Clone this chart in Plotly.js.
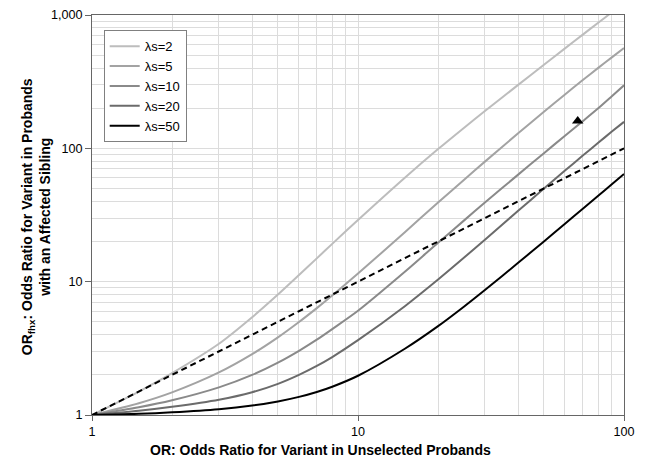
<!DOCTYPE html>
<html>
<head>
<meta charset="utf-8">
<script src="https://cdn.plot.ly/plotly-3.0.1.min.js"></script>
<style>html,body{margin:0;padding:0;background:#fff;}#chart{width:649px;height:463px;}</style>
</head>
<body>
<div id="chart"></div>
<script>
// OR values in unselected probands (x axis)
const orValues = [1, 1.5, 2, 3, 4, 5, 6, 7, 8, 10, 15, 20, 25, 30, 40, 50, 60, 70, 80, 90, 100];
// OR_fhx for each sibling recurrence risk
const lambda2  = [1, 1.5, 2.06, 3.42, 5.41, 8.0, 11.2, 14.95, 19.2, 29, 60.2, 98.7, 142.3, 190.5, 299, 423.5, 562, 713, 875, 1047, 1226];
const lambda5  = [1, 1.225, 1.477, 2.085, 2.86, 3.82, 4.98, 6.33, 7.87, 11.5, 23.5, 39.2, 58, 79.5, 129.6, 188, 253.6, 325, 401, 481, 565];
const lambda10 = [1, 1.143, 1.289, 1.611, 1.998, 2.47, 3.03, 3.67, 4.41, 6.05, 11.86, 19.56, 28.7, 39.2, 63.5, 92, 124.3, 160, 199.7, 246, 297];
const lambda20 = [1, 1.076, 1.153, 1.302, 1.482, 1.713, 2.0, 2.333, 2.72, 3.64, 6.55, 10.38, 15.1, 20.66, 34.0, 49.9, 68.1, 88.2, 110, 133.5, 158];
const lambda50 = [1, 1.02, 1.047, 1.104, 1.176, 1.263, 1.367, 1.488, 1.63, 1.97, 3.14, 4.64, 6.49, 8.66, 13.84, 20.04, 27.2, 35.2, 44.1, 53.8, 64.2];
const seriesNames = ['λs=2', 'λs=5', 'λs=10', 'λs=20', 'λs=50'];
// reference line OR_fhx = OR
const refX = [1, 100];
const refY = [1, 100];
// triangle marker point
const markerX = [67];
const markerY = [160];
// axis ticks
const xTickVals = [1, 10, 100];
const xTickText = ['1', '10', '100'];
const yTickVals = [1, 10, 100, 1000];
const yTickText = ['1', '10', '100', '1,000'];
const xMinorVals = [2,3,4,5,6,7,8,9,20,30,40,50,60,70,80,90];
const yMinorVals = [2,3,4,5,6,7,8,9,20,30,40,50,60,70,80,90,200,300,400,500,600,700,800,900];
const xTitle = '<b>OR: Odds Ratio for Variant in Unselected Probands</b>';
const yTitle = '<b>OR<sub>fhx</sub>: Odds Ratio for Variant in Probands<br>with an Affected Sibling</b>';

const seriesData = [lambda2, lambda5, lambda10, lambda20, lambda50];
const colors = ['#bdbdbd', '#a3a3a3', '#8a8a8a', '#6b6b6b', '#000000'];

const traces = seriesData.map((ys, i) => ({
  x: orValues, y: ys, name: seriesNames[i], type: 'scatter', mode: 'lines',
  line: {color: colors[i], width: 2, shape: 'spline', smoothing: 0.8},
  hoverinfo: 'skip'
}));
traces.push({
  x: refX, y: refY, type: 'scatter', mode: 'lines', showlegend: false,
  line: {color: '#000', width: 2, dash: '6px,4px'}, hoverinfo: 'skip'
});
traces.push({
  x: markerX, y: markerY, type: 'scatter', mode: 'markers', showlegend: false,
  marker: {symbol: 'triangle-up', size: 10, color: '#000'}, hoverinfo: 'skip'
});

const font = {family: '"Liberation Sans", Arial, sans-serif', color: '#000'};
const layout = {
  width: 649, height: 463,
  margin: {l: 92, r: 25, t: 15, b: 48},
  paper_bgcolor: '#fff', plot_bgcolor: '#fff',
  font: Object.assign({size: 13}, font),
  showlegend: true,
  legend: {
    x: 0.022, y: 0.962, xanchor: 'left', yanchor: 'top',
    bgcolor: '#fff', bordercolor: '#808080', borderwidth: 1,
    font: Object.assign({size: 13}, font),
    tracegroupgap: 0
  },
  xaxis: {
    type: 'log', range: [0, 2],
    tickmode: 'array', tickvals: xTickVals, ticktext: xTickText,
    ticks: 'outside', ticklen: 5, tickcolor: '#666',
    tickfont: Object.assign({size: 12.6}, font),
    showgrid: true, gridcolor: '#dcdcdc', gridwidth: 1,
    minor: {tickmode: 'array', tickvals: xMinorVals, showgrid: true, gridcolor: '#dcdcdc', gridwidth: 1, ticks: ''},
    showline: true, linecolor: '#666', linewidth: 1, mirror: true,
    zeroline: false, automargin: false
  },
  yaxis: {
    type: 'log', range: [0, 3],
    tickmode: 'array', tickvals: yTickVals, ticktext: yTickText,
    ticks: 'outside', ticklen: 6, tickcolor: '#666',
    tickfont: Object.assign({size: 12.6}, font),
    showgrid: true, gridcolor: '#dcdcdc', gridwidth: 1,
    minor: {tickmode: 'array', tickvals: yMinorVals, showgrid: true, gridcolor: '#dcdcdc', gridwidth: 1, ticks: ''},
    showline: true, linecolor: '#666', linewidth: 1, mirror: true,
    zeroline: false, automargin: false
  },
  annotations: [{
    text: xTitle, xref: 'paper', yref: 'paper', x: 0.4286, y: -0.0875,
    xanchor: 'center', yanchor: 'middle', showarrow: false,
    font: Object.assign({size: 14}, font)
  }, {
    text: yTitle, xref: 'paper', yref: 'paper', x: -0.106, y: 0.496,
    xanchor: 'center', yanchor: 'middle', showarrow: false, textangle: -90,
    font: Object.assign({size: 14}, font)
  }]
};

Plotly.newPlot('chart', traces, layout, {staticPlot: true, displayModeBar: false});
</script>
</body>
</html>
